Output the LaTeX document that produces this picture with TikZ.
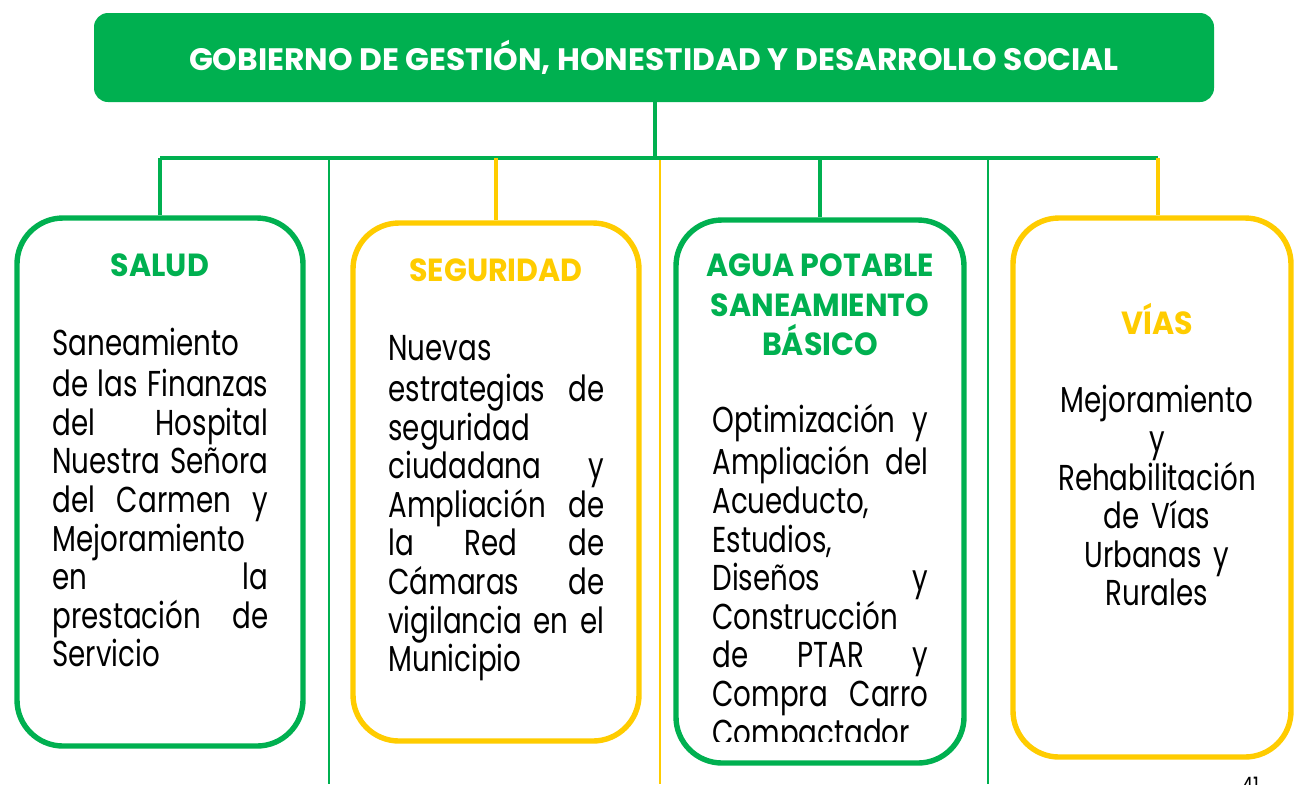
\documentclass[tikz,border=0pt]{standalone}
\usepackage{fontspec}
\setmainfont{Poppins}[FakeStretch=0.77, BoldFeatures={FakeStretch=0.94}]
\newfontface\fuentetitulo{Poppins Bold}[FakeStretch=1.01]
\usetikzlibrary{positioning}

\definecolor{verde}{HTML}{00B050}
\definecolor{amarillo}{HTML}{FFCC00}

% linea justificada a todo el ancho
\newlength{\anchotexto}
\setlength{\anchotexto}{108pt}
\newcommand{\justa}[1]{\makebox[\anchotexto][s]{\spaceskip=0.25em plus 1fil minus 0.1em\relax #1}}

\begin{document}
\begin{tikzpicture}[x=0.5pt, y=-0.5pt]

\useasboundingbox (0,0) rectangle (1296,784);

% Estilos de cajas y textos
\tikzstyle{titulo} = [rectangle, rounded corners=7pt, fill=verde, text=white, minimum width=560pt, minimum height=44.5pt, font=\fuentetitulo\fontsize{15.5}{18}\selectfont]
\tikzstyle{caja} = [rectangle, rounded corners=23pt, line width=2.7pt, minimum width=143pt]
\tikzstyle{cabeza} = [inner sep=0pt, align=center, font=\bfseries\fontsize{16}{19.6}\selectfont]
\tikzstyle{cuerpo} = [inner sep=0pt, anchor=north west, text width=108pt, align=left, font=\fontsize{18}{19.3}\selectfont]

%Lineas de conexion
\tikzstyle{rama} = [line width=1.6pt]
\tikzstyle{guia} = [line width=0.8pt]

% Titulo
\node[titulo] (gobierno) at (654,57.5) {GOBIERNO DE GESTIÓN, HONESTIDAD Y DESARROLLO SOCIAL};

% Cajas
\node[caja, draw=verde, minimum height=264pt] (salud) at (160,482) {};
\node[caja, draw=amarillo, minimum height=259pt] (seguridad) at (496,482) {};
\node[caja, draw=verde, minimum width=144pt, minimum height=271.5pt] (agua) at (820,491.5) {};
\node[caja, draw=amarillo, minimum width=139pt, minimum height=269.5pt] (vias) at (1152,487.5) {};

% Puntos de la barra
\coordinate (barra) at (655,158);
\coordinate (b1) at (160,158);
\coordinate (b2) at (496,158);
\coordinate (b3) at (820,158);
\coordinate (b4) at (1158,158);
\coordinate (g1) at (329,158);
\coordinate (g1f) at (329,784);
\coordinate (g2) at (660,160);
\coordinate (g2f) at (660,784);
\coordinate (g3) at (988,158);
\coordinate (g3f) at (988,784);

\draw[guia, verde] (g1) -- (g1f);
\draw[guia, amarillo] (g2) -- (g2f);
\draw[guia, verde] (g3) -- (g3f);

\draw[rama, verde] (gobierno.south -| barra) -- (barra);
\draw[rama, verde] (b1) -- (b4);
\draw[rama, verde] (b1) -- (salud.north);
\draw[rama, amarillo] (b2) -- (seguridad.north);
\draw[rama, verde] (b3) -- (agua.north);
\draw[rama, amarillo] (b4) -- (b4 |- vias.north);

% Encabezados
\node[cabeza, text=verde, anchor=base] (tsalud) at (160,276) {SALUD};
\node[cabeza, text=amarillo, anchor=base] (tseguridad) at (496,281) {SEGURIDAD};
\node[cabeza, text=verde, anchor=north] (tagua) at (820,249) {\strut AGUA POTABLE\\SANEAMIENTO\\BÁSICO};
\node[cabeza, text=amarillo, anchor=base] (tvias) at (1157,334) {VÍAS};

% Textos
\node[cuerpo] (csalud) at (52,328) {\strut Saneamiento\\
\justa{de las Finanzas}\\
\justa{del Hospital}\\
\justa{Nuestra Señora}\\
\justa{del Carmen y}\\
Mejoramiento\\
\justa{en la}\\
\justa{prestación de}\\
Servicio};

\node[cuerpo] (cseguridad) at (388,333) {\strut Nuevas\\
\justa{estrategias de}\\
seguridad\\
\justa{ciudadana y}\\
\justa{Ampliación de}\\
\justa{la Red de}\\
\justa{Cámaras de}\\
\justa{vigilancia en el}\\
Municipio};

\begin{scope}
\clip (676,400) rectangle (964,741);
\node[cuerpo] (cagua) at (712,404) {\strut \justa{Optimización y}\\
\justa{Ampliación del}\\
Acueducto,\\
Estudios,\\
\justa{Diseños y}\\
Construcción\\
\justa{de PTAR y}\\
\justa{Compra Carro}\\
Compactador};
\end{scope}

\node[cuerpo, anchor=north, align=center, text width=110pt] (cvias) at (1157,385) {\strut Mejoramiento\\
y\\
Rehabilitación\\
de Vías\\
Urbanas y\\
Rurales};

% Pagina
\node[inner sep=0pt, anchor=north west, font=\fontsize{12}{14}\selectfont] (pagina) at (1241,777) {41};

\end{tikzpicture}
\end{document}
